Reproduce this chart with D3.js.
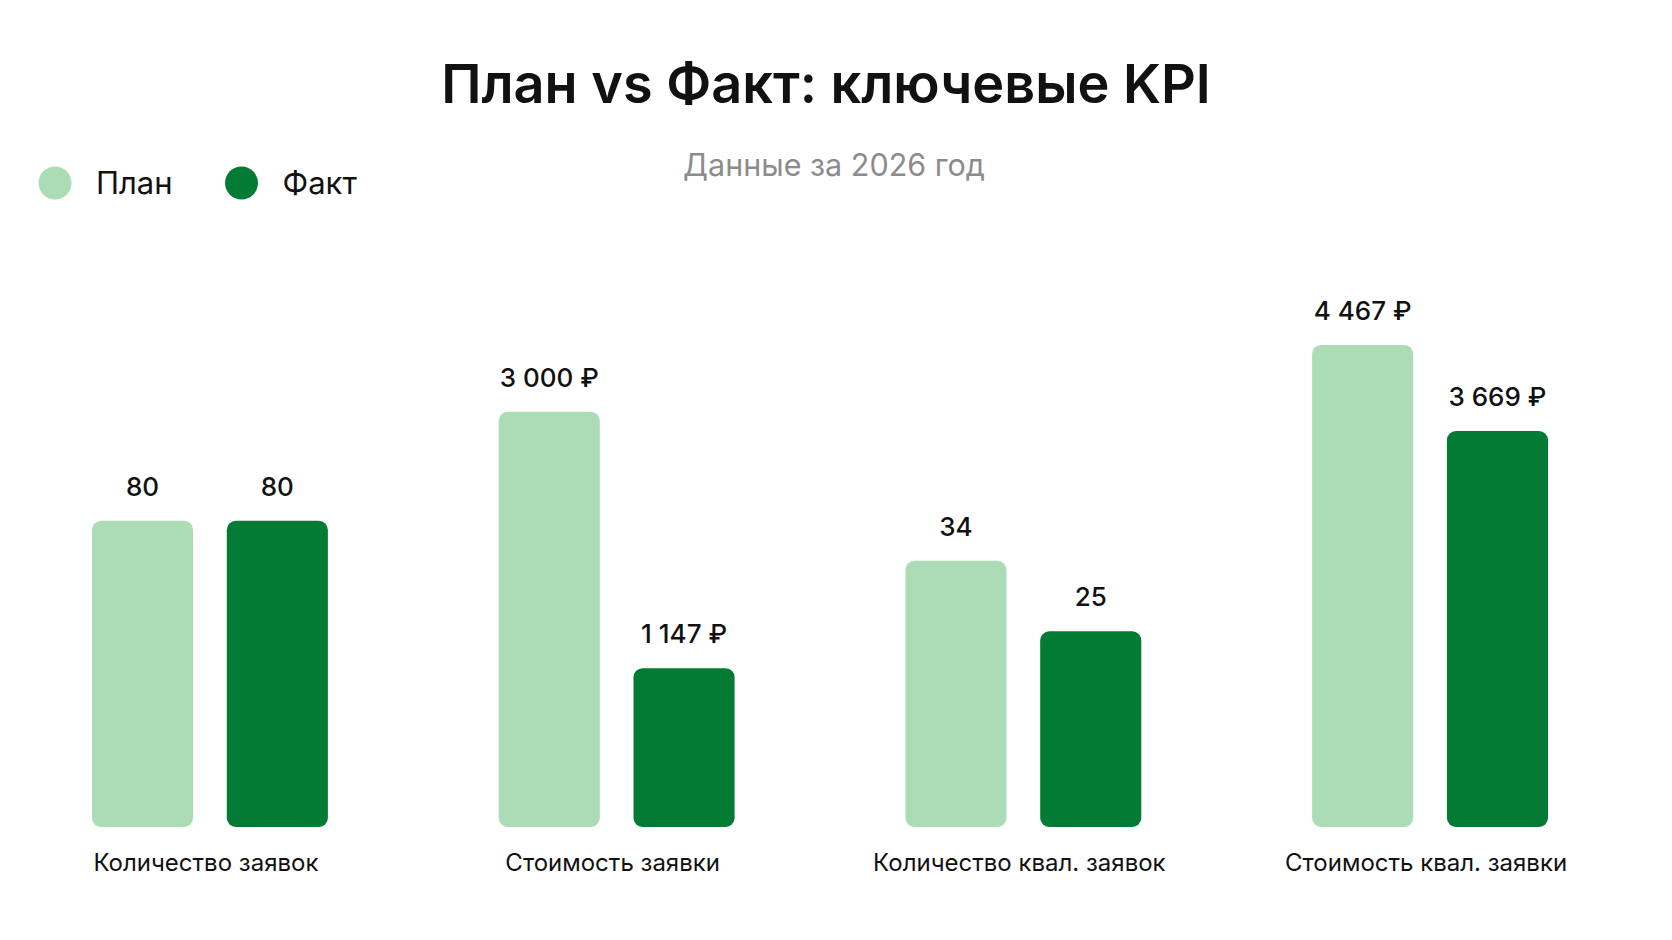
<!DOCTYPE html>
<html>
<head>
<meta charset="utf-8">
<script src="https://cdn.jsdelivr.net/npm/d3@7"></script>
<style>
  body { margin: 0; background: #ffffff; }
  svg { display: block; font-family: Inter, "Noto Sans", sans-serif; }
</style>
</head>
<body>
<svg id="drawing_region"></svg>
<script>
// данные с картинки
const categories = ["Количество заявок", "Стоимость заявки", "Количество квал. заявок", "Стоимость квал. заявки"];
const seriesNames = ["План", "Факт"];
const planValues = [80, 3000, 34, 4467];
const factValues = [80, 1147, 25, 3669];
const units = ["", "₽", "", "₽"];
// у каждого KPI своя шкала
const scaleMax = [128, 3540, 62.6, 4540];

const colors = ["#acdcb5", "#037b34"];

const width = 1672, height = 940;
const baseline = 827;
const barAreaHeight = 490;

const svg = d3.select('#drawing_region')
    .attr('width', width)
    .attr('height', height);

svg.append('rect')
    .attr('width', width).attr('height', height)
    .attr('fill', '#ffffff');

// заголовок
svg.append('text')
    .attr('x', 826).attr('y', 103)
    .attr('text-anchor', 'middle')
    .attr('font-size', 54)
    .attr('font-weight', 600)
    .attr('fill', '#111')
    .text('План vs Факт: ключевые KPI');

svg.append('text')
    .attr('x', 834).attr('y', 176)
    .attr('text-anchor', 'middle')
    .attr('font-size', 30.5)
    .attr('fill', '#8c8c8c')
    .text('Данные за 2026 год');

// легенда
const legend = svg.append('g').selectAll('g')
    .data(seriesNames)
    .join('g')
    .attr('transform', (d, i) => `translate(${55 + i * 186.5}, 183)`);

legend.append('circle')
    .attr('r', 16.5)
    .attr('fill', (d, i) => colors[i]);

legend.append('text')
    .attr('x', 41).attr('y', 11)
    .attr('font-size', 31)
    .attr('fill', '#111')
    .text(d => d);

// шкалы
const x0 = d3.scaleBand()
    .domain(categories)
    .range([92, 1548])
    .paddingInner(0.42)
    .paddingOuter(0);

const x1 = d3.scaleBand()
    .domain(seriesNames)
    .range([0, x0.bandwidth()])
    .paddingInner(0.25);

const yScales = categories.map((c, i) => d3.scaleLinear()
    .domain([0, scaleMax[i]])
    .range([baseline, baseline - barAreaHeight]));

const fmt = d3.formatLocale({ decimal: ",", thousands: " ", grouping: [3], currency: ["", ""] }).format(",d");

const table = categories.map((c, i) => ({
    category: c,
    y: yScales[i],
    bars: [
        { series: seriesNames[0], value: planValues[i], unit: units[i], color: colors[0] },
        { series: seriesNames[1], value: factValues[i], unit: units[i], color: colors[1] }
    ]
}));

const groups = svg.append('g').selectAll('g')
    .data(table)
    .join('g')
    .attr('transform', d => `translate(${x0(d.category)}, 0)`);

groups.each(function(g) {
    const sel = d3.select(this);

    sel.selectAll('rect')
        .data(g.bars)
        .join('rect')
        .attr('x', d => x1(d.series))
        .attr('y', d => g.y(d.value))
        .attr('width', x1.bandwidth())
        .attr('height', d => baseline - g.y(d.value))
        .attr('rx', 9)
        .attr('fill', d => d.color);

    sel.selectAll('text.value')
        .data(g.bars)
        .join('text')
        .attr('class', 'value')
        .attr('x', d => x1(d.series) + x1.bandwidth() / 2)
        .attr('y', d => g.y(d.value) - 25)
        .attr('text-anchor', 'middle')
        .attr('font-size', 26)
        .attr('font-weight', 500)
        .attr('fill', '#111')
        .text(d => fmt(d.value) + (d.unit ? ' ' + d.unit : ''));

    sel.append('text')
        .attr('x', x0.bandwidth() / 2 - 4)
        .attr('y', 871)
        .attr('text-anchor', 'middle')
        .attr('font-size', 24)
        .attr('fill', '#111')
        .text(g.category);
});
</script>
</body>
</html>
